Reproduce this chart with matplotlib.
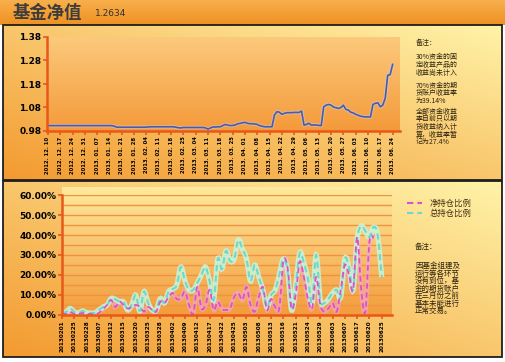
import numpy as np
import matplotlib.pyplot as plt
from matplotlib.path import Path
from matplotlib.patches import PathPatch, Rectangle
from matplotlib.lines import Line2D
from matplotlib.colors import to_rgb

plt.rcParams['font.family'] = ['Noto Sans CJK SC', 'DejaVu Sans']

# ---- data ----
title = '基金净值'
latest_nav = '1.2634'

nav_labels = ['2012. 12. 10', '2012. 12. 17', '2012. 12. 24', '2012. 12. 31',
              '2013. 01. 07', '2013. 01. 14', '2013. 01. 21', '2013. 01. 28',
              '2013. 02. 04', '2013. 02. 11', '2013. 02. 18', '2013. 02. 25',
              '2013. 03. 04', '2013. 03. 11', '2013. 03. 18', '2013. 03. 25',
              '2013. 04. 01', '2013. 04. 08', '2013. 04. 15', '2013. 04. 22',
              '2013. 04. 29', '2013. 05. 06', '2013. 05. 13', '2013. 05. 20',
              '2013. 05. 27', '2013. 06. 03', '2013. 06. 10', '2013. 06. 17',
              '2013. 06. 24']
# daily NAV, five trading days per label
nav = [1.003, 1.003, 1.003, 1.003, 1.003, 1.003, 1.003, 1.003, 1.003, 1.003,
       1.003, 1.003, 1.003, 1.003, 1.003, 1.003, 1.003, 1.003, 1.003, 1.003,
       1.003, 1.003, 1.003, 1.003, 1.003, 1.003, 1.003, 1.000, 0.996, 0.996,
       0.996, 0.996, 0.996, 0.996, 0.996, 0.996, 0.996, 0.996, 0.996, 0.996,
       0.996, 0.998, 0.998, 0.998, 0.998, 0.998, 0.998, 0.998, 0.998, 0.998,
       0.998, 0.998, 0.996, 0.994, 0.993, 0.995, 0.995, 0.995, 0.995, 0.995,
       0.995, 0.995, 0.995, 0.995, 0.993, 0.988, 0.993, 0.997, 0.997, 0.998,
       0.998, 1.003, 1.008, 1.005, 1.003, 1.004, 1.005, 1.011, 1.012, 1.015,
       1.017, 1.013, 1.011, 1.011, 1.010, 1.008, 1.003, 1.000, 0.998, 0.998,
       0.998, 0.998, 1.048, 1.062, 1.060, 1.051, 1.055, 1.058, 1.058, 1.058,
       1.059, 1.059, 1.059, 1.065, 1.005, 1.008, 1.013, 1.005, 1.006, 1.005,
       1.004, 1.003, 1.083, 1.090, 1.093, 1.090, 1.082, 1.079, 1.076, 1.080,
       1.090, 1.072, 1.069, 1.060, 1.057, 1.051, 1.047, 1.043, 1.041, 1.040,
       1.040, 1.040, 1.093, 1.098, 1.100, 1.083, 1.090, 1.120, 1.217, 1.220,
       1.2634]

pos_labels = ['20130201', '20130225', '20130228', '20130307', '20130312',
              '20130315', '20130320', '20130325', '20130328', '20130402',
              '20130409', '20130412', '20130417', '20130422', '20130425',
              '20130503', '20130508', '20130513', '20130516', '20130521',
              '20130524', '20130529', '20130603', '20130607', '20130617',
              '20130620', '20130625']
total_pos = [1.2, 1.5, 3.3, 1.5, 1.0, 2.0, 1.2, 1.0, 1.0, 2.5,
             4.0, 5.0, 8.3, 7.8, 6.7, 6.5, 2.5, 5.0, 10.0, 2.0,
             11.7, 6.0, 2.5, 2.5, 8.3, 6.0, 11.7, 13.0, 15.0, 24.0,
             17.0, 12.5, 12.5, 16.0, 20.0, 24.0, 17.0, 7.5, 28.0, 23.0,
             32.0, 27.0, 28.0, 37.5, 33.0, 28.0, 17.0, 25.0, 19.0, 12.5,
             4.0, 10.0, 12.5, 20.0, 28.0, 22.5, 2.5, 15.0, 31.0, 26.0,
             18.0, 6.0, 30.0, 7.5, 6.0, 8.0, 11.0, 12.5, 9.0, 28.0,
             24.0, 12.5, 38.0, 44.5, 42.0, 39.0, 44.0, 40.0, 19.0]
net_pos = [0.8, 0.5, 1.5, 0.5, 0.5, 1.0, 0.5, 0.5, 0.5, 1.0,
           3.0, 5.0, 7.5, 4.0, 6.7, 5.0, 3.3, 4.0, 5.0, 4.0,
           1.7, 4.0, 2.5, 1.7, 6.7, 6.0, 9.0, 11.0, 8.0, 8.3,
           11.7, 5.0, 0.5, 14.0, 3.3, 5.0, 12.5, 2.5, 6.7, 3.0,
           2.5, 3.3, 9.0, 11.0, 7.5, 14.0, 5.0, 1.7, 9.0, 14.0,
           2.5, 8.0, 4.0, 3.3, 26.7, 24.0, 3.3, 10.0, 26.7, 19.0,
           8.0, 3.3, 19.0, 5.0, 1.7, 3.3, 6.0, 1.7, 12.5, 25.0,
           20.0, 12.5, 39.0, 12.5, 1.7, 36.7, 38.5]
series_names = ['净持仓比例', '总持仓比例']

note_head = '备注：'
notes_top = [['30%资金的固', '定收益产品的', '收益尚未计入'],
             ['70%资金的期', '货账户收益率', '为39.14%'],
             ['全部资金收益', '率目前只以期', '货收益纳入计', '算，收益率暂', '记为27.4%']]
notes_bottom = ['因基金组建及', '运行等各环节', '没有到位，基', '金的期货账户',
                '在三月份之前', '基本未能进行', '正常交易。']

# ---- figure ----
W, H = 506, 362
fig = plt.figure(figsize=(W / 100, H / 100), dpi=100, facecolor='white')


def fx(x):
    return x / W


def fy(y):
    return 1 - y / H


def gradient(c1, c2, diag=0.0, n=80):
    yy, xx = np.mgrid[0:1:n * 1j, 0:1:n * 1j]
    t = (1 - diag) * yy + diag * (1 - xx)
    a, b = np.array(to_rgb(c1)), np.array(to_rgb(c2))
    return a + (b - a) * t[..., None]


bg = fig.add_axes([0, 0, 1, 1], zorder=-5)
bg.set_axis_off()


def paint(x0, y0, x1, y1, c1, c2, diag=0.0):
    bg.imshow(gradient(c1, c2, diag), extent=(x0, x1, y1, y0),
              aspect='auto', interpolation='bilinear')


paint(0, 0, 506, 25, '#f8b04c', '#ef9022')
paint(3, 25, 502, 180, '#fff3a8', '#f39a30', diag=0.5)
paint(3, 181, 502, 357, '#fff3a8', '#f39a30', diag=0.5)
paint(47, 37, 400, 131, '#fcc97c', '#f49a3a')
paint(62, 187, 392, 315, '#fee99c', '#f39c3c')
bg.add_patch(Rectangle((3, 25), 499, 155, fill=False, ec='#1e1e1e', lw=1.3))
bg.add_patch(Rectangle((3, 181), 499, 176, fill=False, ec='#1e1e1e', lw=1.3))
bg.set_xlim(0, W)
bg.set_ylim(H, 0)

fig.text(fx(13), fy(13), title, fontsize=12.5, fontweight='bold',
         color='#3c3c3c', va='center', ha='left')
fig.text(fx(95), fy(14), latest_nav, fontsize=6.5, family='DejaVu Sans',
         color='#303030', va='center', ha='left')

spine_c = '#e8581a'
note_c = '#2e2410'


def style_axes(ax):
    ax.patch.set_alpha(0)
    for s in ['top', 'right']:
        ax.spines[s].set_visible(False)
    for s in ['left', 'bottom']:
        ax.spines[s].set_color(spine_c)
        ax.spines[s].set_linewidth(1.8)
    ax.tick_params(axis='both', color=spine_c, width=1.2, length=3, pad=1)


# ---- top: NAV ----
ax1 = fig.add_axes([fx(47), fy(131), (400 - 47) / W, (131 - 37) / H])
style_axes(ax1)
days = np.arange(len(nav))
ax1.plot(days, nav, color='#c8d0f0', lw=2.6, alpha=0.5, solid_capstyle='round')
ax1.plot(days, nav, color='#4a5aac', lw=1.2)
ax1.set_xlim(-0.4, 143)
ax1.set_ylim(0.98, 1.38)
ax1.set_yticks([0.98, 1.08, 1.18, 1.28, 1.38])
ax1.set_yticklabels(['%.2f' % v for v in [0.98, 1.08, 1.18, 1.28, 1.38]],
                    family='DejaVu Sans', fontweight='bold', fontsize=6.5)
ax1.set_xticks(np.arange(len(nav_labels)) * 5)
ax1.set_xticklabels(nav_labels, rotation=90, family='DejaVu Sans',
                    fontweight='bold', fontsize=3.8)

fig.text(fx(416), fy(43), note_head, fontsize=5, color=note_c, va='center')
# each note paragraph is one text block; value = vertical centre in pixels
for grp, yc in zip(notes_top, [65, 93, 127]):
    fig.text(fx(416), fy(yc), '\n'.join(grp), fontsize=5, color=note_c,
             va='center', ha='left', linespacing=0.95)


# ---- bottom: positions ----
def smooth_path(x, y):
    p = np.column_stack([x, y]).astype(float)
    n = len(p)
    verts, codes = [p[0]], [Path.MOVETO]
    for i in range(n - 1):
        p0, p1 = p[max(i - 1, 0)], p[i]
        p2, p3 = p[i + 1], p[min(i + 2, n - 1)]
        verts += [p1 + (p2 - p0) / 6, p2 - (p3 - p1) / 6, p2]
        codes += [Path.CURVE4] * 3
    return Path(verts, codes)


ax2 = fig.add_axes([fx(62), fy(315), (392 - 62) / W, (315 - 195) / H])
style_axes(ax2)
ax2.set_axisbelow(True)
ax2.set_yticks(np.arange(0, 61, 10))
ax2.set_yticks(np.arange(0, 61, 5), minor=True)
ax2.tick_params(axis='y', which='minor', length=0)
ax2.yaxis.grid(True, which='both', color='#ee9440', lw=1.0)
ax2.set_yticklabels(['%.2f%%' % v for v in range(0, 61, 10)],
                    family='DejaVu Sans', fontweight='bold', fontsize=6.5)
ax2.set_xticks(np.arange(len(pos_labels)) * 3)
ax2.set_xticklabels(pos_labels, rotation=90, family='DejaVu Sans',
                    fontweight='bold', fontsize=4.1)
ax2.set_xlim(0, 80.5)
ax2.set_ylim(0, 60)

dash = (0, (3, 2))
colors = {'net': ('#f2a8dc', '#e050c4'), 'total': ('#c8f6dc', '#6ed8cc')}
tp = smooth_path(np.arange(len(total_pos)), total_pos)
npth = smooth_path(np.arange(len(net_pos)), net_pos)
ax2.add_patch(PathPatch(npth, fill=False, ec=colors['net'][0], lw=3.2, alpha=0.6))
ax2.add_patch(PathPatch(tp, fill=False, ec=colors['total'][0], lw=3.8, alpha=0.85))
ax2.add_patch(PathPatch(tp, fill=False, ec=colors['total'][1], lw=1.5, linestyle=dash))
ax2.add_patch(PathPatch(npth, fill=False, ec=colors['net'][1], lw=1.3, linestyle=dash))

handles = [Line2D([], [], color=colors['net'][1], lw=1.5, linestyle=dash),
           Line2D([], [], color=colors['total'][1], lw=1.5, linestyle=dash)]
ax2.legend(handles, series_names, loc='upper left',
           bbox_to_anchor=(fx(400), fy(191)), bbox_transform=fig.transFigure,
           frameon=False, fontsize=6, handlelength=1.8, handletextpad=0.8,
           labelspacing=0.2, labelcolor='#3e2c10')

fig.text(fx(415), fy(247), note_head, fontsize=5.4, color=note_c, va='center')
fig.text(fx(415), fy(288.5), '\n'.join(notes_bottom), fontsize=5.4,
         color=note_c, va='center', ha='left', linespacing=0.92)

fig.savefig('out.png', dpi=100, facecolor='white')
